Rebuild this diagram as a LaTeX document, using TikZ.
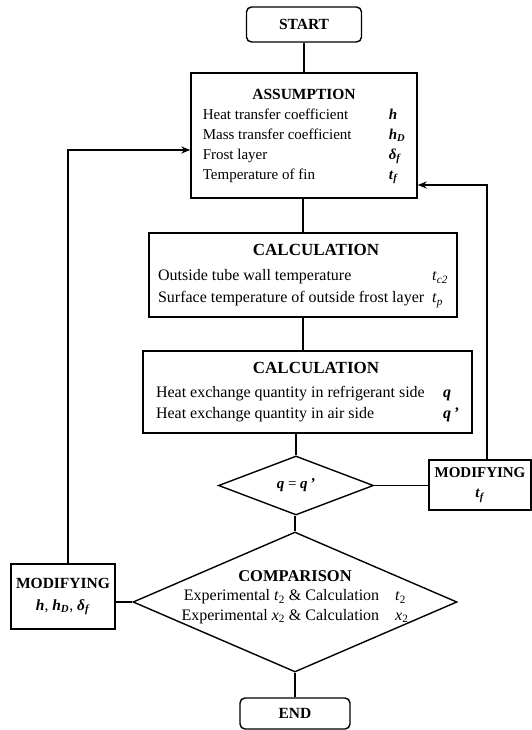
\documentclass[tikz,border=0pt]{standalone}
\usepackage{fontspec}
\setmainfont{Liberation Serif}
\usetikzlibrary{arrows.meta,calc,shapes.geometric}
\newcommand{\vsym}[1]{\textbf{\textit{#1}}}
\newcommand{\vsub}[1]{\textsubscript{#1}}

\begin{document}
\begin{tikzpicture}[x=1pt,y=-1pt,line width=1.4pt,>={Stealth[length=9pt,width=7pt]},
  box/.style={draw,rectangle,inner sep=0pt,font=\fontsize{15}{20}\selectfont},
  endbox/.style={draw,rectangle,rounded corners=5pt,inner sep=0pt,font=\fontsize{15.5}{18}\selectfont\bfseries},
  decision/.style={draw,diamond,inner sep=0pt}]
\useasboundingbox (0,0) rectangle (532,730);

\node[endbox,minimum width=115pt,minimum height=35pt] (start) at (304,24.5) {START};

\node[box,minimum width=226pt,minimum height=125pt] (assume) at (304,135.5) {%
\begin{tabular}{@{}p{186pt}@{}l@{}}
\multicolumn{2}{@{}c@{}}{\fontsize{15.5}{20}\selectfont\bfseries ASSUMPTION}\\
Heat transfer coefficient & \vsym{h}\\
Mass transfer coefficient & \vsym{h}\vsub{\vsym{D}}\\
Frost layer & \vsym{δ}\vsub{\vsym{f}}\\
Temperature of fin & \vsym{t}\vsub{\vsym{f}}
\end{tabular}};

\node[box,font=\fontsize{16}{22}\selectfont,minimum width=308pt,minimum height=84pt] (calc1) at (303,275) {%
\begin{tabular}{@{}p{274pt}@{}l@{}}
\multicolumn{2}{@{}c@{}}{\hspace{26pt}\fontsize{17}{20}\selectfont\bfseries CALCULATION}\\[3pt]
Outside tube wall temperature & \textit{t}\vsub{\textit{c2}}\\
Surface temperature of outside frost layer & \textit{t}\vsub{\textit{p}}
\end{tabular}};

\node[box,font=\fontsize{16}{21}\selectfont,minimum width=329pt,minimum height=82pt] (calc2) at (307.5,392) {%
\begin{tabular}{@{}p{287pt}@{}l@{}}
\multicolumn{2}{@{}c@{}}{\hspace{17pt}\fontsize{17}{20}\selectfont\bfseries CALCULATION}\\[3pt]
Heat exchange quantity in refrigerant side & \vsym{q}\\
Heat exchange quantity in air side & \vsym{q}\,\vsym{'}
\end{tabular}};

\node[decision,minimum width=155pt,minimum height=59pt] (equal) at (296,485.5) {};
\node[font=\fontsize{15}{18}\selectfont] (equaltxt) at (equal) {\vsym{q} = \vsym{q}\,\vsym{'}};

\node[box,align=center,minimum width=102pt,minimum height=50pt] (modR) at (480,485) {%
\textbf{MODIFYING}\\ \vsym{t}\vsub{\vsym{f}}};

\node[decision,minimum width=324pt,minimum height=140pt] (compare) at (295,602) {};
\node[font=\fontsize{16}{19.5}\selectfont,align=center] (comparetxt) at (295,597) {%
{\fontsize{16.5}{19.5}\selectfont\bfseries COMPARISON}\\
Experimental \textit{t}\vsub{2} \& Calculation\quad\textit{t}\vsub{2}\\
Experimental \textit{x}\vsub{2} \& Calculation\quad\textit{x}\vsub{2}};

\node[box,align=center,font=\fontsize{15.5}{22}\selectfont,minimum width=104pt,minimum height=65pt] (modL) at (63,596.5) {%
\textbf{MODIFYING}\\ \vsym{h}, \vsym{h}\vsub{\vsym{D}}, \vsym{δ}\vsub{\vsym{f}}};

\node[endbox,minimum width=110pt,minimum height=31pt] (end) at (295,713.5) {END};

\draw (start) -- (assume);
\draw (calc1.north) -- (calc1.north |- assume.south);
\draw (calc1.south) -- (calc1.south |- calc2.north);
\draw (equal.north) -- (equal.north |- calc2.south);
\draw (compare.north) -- (compare.north |- equal.south);
\draw (compare.south) -- (end);
\draw (equal.east) -- (equal.east -| modR.west);
\draw (compare.west) -- (compare.west -| modL.east);
\draw[->] ([xshift=7pt]modR.north) |- ([yshift=-49.5pt]assume.east);
\draw[->] ([xshift=5pt]modL.north) |- ([yshift=-14.5pt]assume.west);

\end{tikzpicture}
\end{document}
